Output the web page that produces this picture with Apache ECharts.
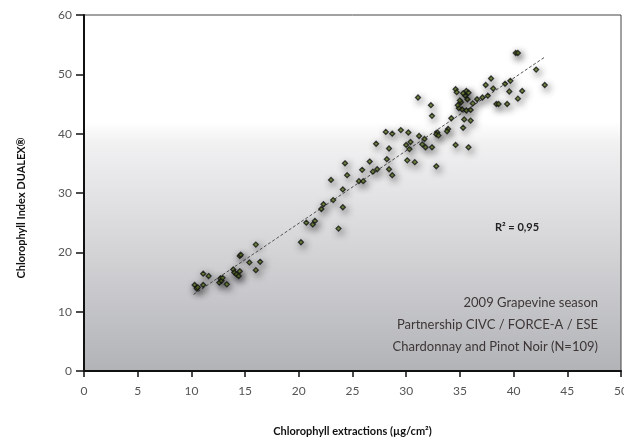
<!DOCTYPE html>
<html>
<head>
<meta charset="utf-8">
<script src="https://cdn.jsdelivr.net/npm/echarts@6/dist/echarts.min.js"></script>
<style>
  html,body{margin:0;padding:0;background:#fff;}
  #chart{width:624px;height:438px;}
</style>
</head>
<body>
<div id="chart"></div>
<script>
// chlorophyll extraction (x) vs DUALEX index (y)
const lowPoints = [
  [10.3,14.5],[10.5,13.9],[10.6,14.1],[11.1,14.5],[11.1,16.4],[11.6,16.0],[12.6,14.9],
  [12.7,15.6],[12.8,15.2],[12.9,15.7],[13.3,14.6],[13.9,17.1],[14.0,16.6],[14.2,16.3],
  [14.4,16.0],[14.5,16.8],[14.5,19.4],[14.6,19.6],[15.4,18.3],[16.0,21.3],[16.0,17.0],[16.4,18.4]
]
const midPoints = [
  [20.2,21.7],[20.7,25.0],[21.5,25.3],[21.3,24.7],[23.7,24.0],[22.1,27.3],[22.3,28.1],
  [23.2,28.8],[24.1,27.6],[23.0,32.2],[24.1,30.6],[24.3,35.0],[24.5,33.0],[25.6,32.0],
  [26.0,32.0],[25.9,33.9],[26.6,35.3],[26.9,33.6],[27.3,34.0],[27.2,38.3]
]
const upperPoints = [
  [28.1,40.3],[28.7,40.0],[29.5,40.6],[30.2,40.2],[31.2,39.6],[31.7,39.1],[31.5,38.2],
  [31.8,37.7],[32.4,37.7],[32.9,40.2],[32.8,39.9],[33.9,40.8],[28.4,37.5],[30.0,38.1],
  [30.3,37.4],[30.4,38.6],[28.2,35.7],[28.4,34.0],[28.7,33.0],[30.1,35.5],[30.8,35.2],
  [32.8,34.5],[31.1,46.1],[32.3,44.8],[32.4,43.0],[34.2,42.6],[33.8,40.4],[33.0,39.7]
]
const topPoints = [
  [34.6,47.5],[34.7,47.0],[35.6,47.2],[35.5,46.4],[35.7,45.8],[35.1,45.3],[35.2,44.1],
  [35.6,43.9],[36.0,44.0],[34.9,44.3],[35.4,42.4],[36.0,42.2],[35.3,41.0],[34.6,38.1],
  [35.8,37.7],[36.6,45.8],[37.1,46.1],[37.6,46.4],[37.9,49.3],[37.4,48.2],[38.1,47.6],
  [39.2,48.4],[39.7,48.9],[39.6,47.1],[40.8,47.2],[40.4,45.9],[39.4,45.0],[38.4,45.0],
  [38.6,45.0],[40.2,53.6],[40.4,53.6],[42.1,50.8],[42.9,48.2],[35.3,46.8],[35.8,46.9],
  [34.8,44.8],[35.0,45.6],[36.2,45.1]
]
const trendLine = [[10.2,12.9],[42.9,52.9]]
const notes = ['2009 Grapevine season','Partnership CIVC / FORCE-A / ESE','Chardonnay and Pinot Noir (N=109)']

const allPoints = lowPoints.concat(midPoints, upperPoints, topPoints)

const chart = echarts.init(document.getElementById('chart'))
const font = 'Lato, "Open Sans", sans-serif'

let option = {
  animation:false,
  grid:{
    left:84, right:3, top:15, bottom:67,
    outerBoundsMode:'none',
    containLabel:false,
    show:true,
    borderColor:'#444',
    borderWidth:1,
    backgroundColor:new echarts.graphic.LinearGradient(0,0,0,1,[
      {offset:0, color:'#ffffff'},
      {offset:0.3, color:'#ffffff'},
      {offset:0.36, color:'#f1f1f2'},
      {offset:1, color:'#b2b3b7'}
    ])
  },
  xAxis:{
    type:'value', min:0, max:50, interval:5,
    name:'Chlorophyll extractions (µg/cm²)',
    nameLocation:'middle', nameGap:55,
    nameTextStyle:{fontFamily:font, fontWeight:'bold', fontSize:11, color:'#111'},
    axisLine:{lineStyle:{color:'#111', width:2}},
    axisTick:{length:6, lineStyle:{color:'#111', width:1.5}},
    axisLabel:{color:'#555', fontSize:12, fontFamily:font, margin:14},
    splitLine:{show:false}
  },
  yAxis:{
    type:'value', min:0, max:60, interval:10,
    axisLine:{show:true, lineStyle:{color:'#111', width:2}},
    axisTick:{show:true, length:8, lineStyle:{color:'#111', width:1.5}},
    axisLabel:{color:'#555', fontSize:12, fontFamily:font, margin:12},
    splitLine:{show:false}
  },
  graphic:[
    {
      type:'text', x:21, y:208, rotation:Math.PI/2,
      style:{text:'Chlorophyll Index DUALEX®', fill:'#111', font:'bold 11px ' + font,
        align:'center', verticalAlign:'middle'}
    },
    {
      type:'text', x:517, y:227,
      style:{text:'R² = 0,95', fill:'#222', font:'bold 11px ' + font,
        align:'center', verticalAlign:'middle'}
    },
    ...notes.map((t,i)=>({
      type:'text', x:598, y:303 + i*22,
      style:{text:t, fill:'#3e3636', font:'13px ' + font, align:'right', verticalAlign:'middle'}
    }))
  ],
  series:[
    {
      type:'line',
      data:trendLine,
      symbol:'none',
      lineStyle:{color:'#555', width:1, type:[3,2]},
      z:2
    },
    {
      type:'scatter',
      data:allPoints,
      symbol:'diamond',
      symbolSize:5,
      itemStyle:{
        color:'#5c7a1c',
        borderColor:'#151515',
        borderWidth:1.3,
        shadowBlur:7,
        shadowColor:'rgba(0,0,0,0.65)',
        shadowOffsetX:2,
        shadowOffsetY:3
      },
      z:3
    }
  ]
}
chart.setOption(option)
</script>
</body>
</html>
